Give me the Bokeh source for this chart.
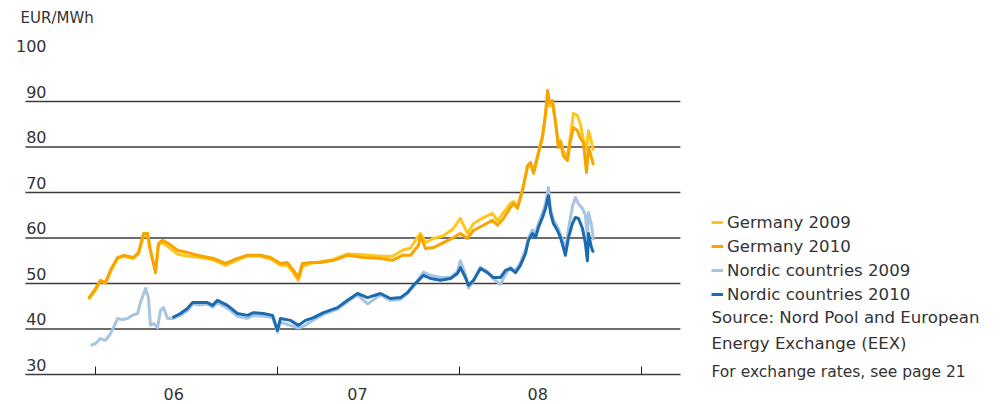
from bokeh.plotting import figure
from bokeh.models import FixedTicker, Label, Legend, LegendItem
from bokeh.embed import file_html
from bokeh.resources import INLINE

FONT = "DejaVu Sans"
TXT = "#333333"

# ---- data (decimal years, EUR/MWh) ----
de_t = [2005.962, 2006.000, 2006.027, 2006.055, 2006.082, 2006.121, 2006.154, 2006.209, 2006.236,
        2006.264, 2006.286, 2006.302, 2006.330, 2006.346, 2006.368, 2006.401, 2006.451, 2006.505,
        2006.560, 2006.648, 2006.714, 2006.780, 2006.835, 2006.907, 2006.962, 2007.016, 2007.055,
        2007.088, 2007.115, 2007.137, 2007.181, 2007.236, 2007.308, 2007.385, 2007.473, 2007.566,
        2007.632, 2007.687, 2007.731, 2007.775, 2007.786, 2007.813, 2007.857, 2007.912, 2007.967,
        2008.005, 2008.044, 2008.077, 2008.132, 2008.181, 2008.209, 2008.242, 2008.280, 2008.297,
        2008.319, 2008.346, 2008.374, 2008.390, 2008.407, 2008.434, 2008.456, 2008.473, 2008.484,
        2008.495, 2008.511, 2008.527, 2008.544, 2008.555, 2008.571, 2008.593, 2008.610, 2008.626,
        2008.648, 2008.665, 2008.681, 2008.698, 2008.709, 2008.720, 2008.736]
germany_2010 = [46.7, 48.9, 50.7, 50.2, 52.9, 55.7, 56.2, 55.7, 56.8,
                61.0, 61.0, 57.3, 52.4, 58.8, 59.5, 58.8, 57.3, 56.8,
                56.2, 55.5, 54.4, 55.5, 56.2, 56.2, 55.7, 54.4, 54.6,
                52.9, 51.3, 54.4, 54.6, 54.6, 55.1, 56.2, 55.7, 55.5,
                55.1, 56.2, 56.2, 58.4, 60.5, 57.7, 57.9, 59.0, 60.1,
                61.0, 59.9, 61.7, 62.8, 63.9, 62.8, 64.3, 66.7, 67.6,
                66.5, 70.4, 75.9, 76.6, 74.2, 78.6, 82.1, 87.4, 92.4,
                89.8, 90.2, 85.8, 79.9, 81.0, 78.1, 77.0, 81.4, 84.3,
                83.6, 81.9, 81.0, 74.4, 79.9, 78.5, 76.0]
germany_2009 = [46.5, 48.5, 50.5, 50.0, 52.5, 55.5, 56.0, 55.5, 56.5,
                60.5, 60.5, 57.0, 52.8, 58.5, 59.0, 58.0, 56.5, 56.0,
                55.8, 55.2, 54.0, 55.2, 56.0, 56.0, 55.4, 54.0, 54.0,
                52.3, 50.7, 53.8, 54.4, 54.8, 55.3, 56.5, 56.3, 56.0,
                56.0, 57.3, 57.8, 60.5, 61.0, 59.0, 59.9, 60.5, 62.1,
                64.3, 61.0, 63.2, 64.5, 65.4, 63.8, 65.6, 67.6, 68.0,
                67.0, 70.6, 75.5, 76.4, 74.5, 78.8, 82.5, 87.0, 91.0,
                89.0, 89.5, 85.5, 80.5, 81.5, 79.0, 78.0, 82.5, 87.4,
                86.9, 85.0, 81.5, 79.7, 83.6, 82.0, 79.2]

nordic09_t = [2005.973, 2006.000, 2006.027, 2006.055, 2006.082, 2006.099, 2006.121, 2006.148, 2006.176,
              2006.203, 2006.231, 2006.247, 2006.275, 2006.291, 2006.302, 2006.319, 2006.341, 2006.357,
              2006.374, 2006.396, 2006.423, 2006.467, 2006.505, 2006.533, 2006.566, 2006.615, 2006.643,
              2006.670, 2006.725, 2006.780, 2006.835, 2006.868, 2006.923, 2006.973, 2007.000, 2007.016,
              2007.071, 2007.115, 2007.154, 2007.198, 2007.253, 2007.330, 2007.385, 2007.440, 2007.495,
              2007.566, 2007.621, 2007.676, 2007.714, 2007.747, 2007.775, 2007.802, 2007.841, 2007.896,
              2007.951, 2007.989, 2008.005, 2008.033, 2008.049, 2008.077, 2008.115, 2008.154, 2008.187,
              2008.225, 2008.253, 2008.280, 2008.308, 2008.335, 2008.363, 2008.379, 2008.401, 2008.418,
              2008.434, 2008.456, 2008.473, 2008.489, 2008.500, 2008.516, 2008.538, 2008.555, 2008.571,
              2008.582, 2008.599, 2008.621, 2008.637, 2008.654, 2008.676, 2008.692, 2008.703, 2008.709,
              2008.725, 2008.736]
nordic_2009 = [36.4, 36.8, 37.9, 37.5, 39.0, 40.3, 42.3, 42.1, 42.3,
               43.0, 43.4, 45.8, 48.9, 46.9, 40.8, 41.2, 40.3, 44.1,
               44.7, 42.3, 42.3, 43.0, 44.0, 45.5, 45.3, 45.5, 44.8,
               45.8, 44.6, 42.8, 42.3, 43.0, 42.8, 42.5, 39.3, 41.5,
               40.8, 40.2, 40.8, 42.0, 43.2, 44.4, 46.0, 47.5, 45.5,
               47.5, 46.3, 46.5, 47.8, 49.3, 51.0, 52.5, 51.8, 51.3,
               51.3, 52.6, 55.0, 52.0, 49.0, 50.5, 53.6, 52.6, 51.0,
               49.8, 52.0, 53.5, 52.8, 54.6, 57.5, 60.0, 61.8, 61.0,
               63.2, 65.4, 67.5, 71.1, 66.5, 64.0, 62.5, 60.8, 59.0,
               57.5, 62.0, 67.0, 68.9, 67.5, 66.5, 65.0, 60.0, 65.6,
               63.0, 59.5]

nordic10_t = [2006.423, 2006.467, 2006.505, 2006.533, 2006.566, 2006.615, 2006.643, 2006.670, 2006.725,
              2006.780, 2006.835, 2006.868, 2006.923, 2006.973, 2007.000, 2007.016, 2007.071, 2007.115,
              2007.154, 2007.198, 2007.253, 2007.330, 2007.385, 2007.440, 2007.495, 2007.566, 2007.621,
              2007.676, 2007.714, 2007.747, 2007.775, 2007.802, 2007.841, 2007.896, 2007.951, 2007.989,
              2008.005, 2008.033, 2008.049, 2008.077, 2008.115, 2008.154, 2008.187, 2008.225, 2008.253,
              2008.280, 2008.308, 2008.335, 2008.363, 2008.379, 2008.401, 2008.418, 2008.434, 2008.456,
              2008.473, 2008.489, 2008.500, 2008.516, 2008.538, 2008.555, 2008.571, 2008.582, 2008.599,
              2008.621, 2008.637, 2008.654, 2008.676, 2008.692, 2008.703, 2008.709, 2008.725, 2008.736]
nordic_2010 = [42.5, 43.4, 44.5, 45.8, 45.8, 45.8, 45.2, 46.3, 45.2,
               43.4, 43.0, 43.6, 43.4, 43.0, 39.7, 42.3, 41.9, 40.8,
               41.9, 42.5, 43.6, 44.7, 46.3, 47.8, 46.9, 47.8, 46.7,
               46.9, 48.0, 49.6, 50.7, 51.8, 51.1, 50.7, 51.1, 52.2,
               53.5, 51.3, 49.6, 50.7, 53.3, 52.4, 51.3, 51.3, 52.9,
               53.3, 52.4, 54.0, 56.6, 59.5, 61.0, 60.1, 62.3, 64.5,
               66.5, 69.3, 65.6, 63.2, 61.7, 60.1, 57.9, 56.2, 60.1,
               63.2, 64.5, 64.3, 62.1, 58.8, 55.0, 61.0, 57.9, 56.8]

series_names = ["Germany 2009", "Germany 2010", "Nordic countries 2009", "Nordic countries 2010"]
series_colors = ["#FFC61E", "#F6A500", "#A7C4E0", "#1C6AAF"]

y_label_values = [30, 40, 50, 60, 70, 80, 90, 100]
grid_values = [40, 50, 60, 70, 80, 90]
year_bounds = [2006, 2007, 2008, 2009]
x_label_text = ["06", "07", "08"]
x_label_pos = [2006.43, 2007.44, 2008.43]

source_lines = ["Source: Nord Pool and European", "Energy Exchange (EEX)"]
note_text = "For exchange rates, see page 21"

# ---- layout constants (data-space extents of the chart body) ----
X_START, X_END = 2005.615, 2009.214
Y_BASE = 30

p = figure(width=1000, height=404, x_range=(2005.478, 2010.973), y_range=(23.407, 112.198),
           output_backend="svg", toolbar_location=None,
           min_border_left=0, min_border_right=0, min_border_top=0, min_border_bottom=0)
p.outline_line_color = None
p.background_fill_color = "white"
p.yaxis.visible = False
p.xgrid.visible = False
p.ygrid.visible = False

# x axis drawn at y = 30, limited to the chart body
p.xaxis.fixed_location = Y_BASE
p.xaxis.bounds = (X_START, X_END)
p.xaxis.ticker = FixedTicker(ticks=year_bounds)
p.xaxis.major_label_overrides = {t: " " for t in year_bounds}
p.xaxis.major_tick_in = 8
p.xaxis.major_tick_out = 0
p.xaxis.minor_tick_line_color = None
p.xaxis.axis_line_color = "#3c3c3c"
p.xaxis.axis_line_width = 1.3
p.xaxis.major_tick_line_color = "#222222"

# horizontal grid lines across the chart body
p.segment(x0=[X_START] * len(grid_values), x1=[X_END] * len(grid_values),
          y0=grid_values, y1=grid_values, line_color="#3c3c3c", line_width=1.3)

r_de09 = p.line(de_t, germany_2009, color=series_colors[0], line_width=3, line_join="round")
r_de10 = p.line(de_t, germany_2010, color=series_colors[1], line_width=3, line_join="round")
r_no09 = p.line(nordic09_t, nordic_2009, color=series_colors[2], line_width=3, line_join="round")
r_no10 = p.line(nordic10_t, nordic_2010, color=series_colors[3], line_width=3, line_join="round")

legend = Legend(items=[LegendItem(label=n, renderers=[r]) for n, r in
                       zip(series_names, [r_de09, r_de10, r_no09, r_no10])],
                location=(711, 100), orientation="vertical",
                border_line_color=None, background_fill_alpha=0,
                padding=0, margin=0, spacing=4, label_height=20, glyph_height=20,
                glyph_width=12, label_standoff=4,
                label_text_font=FONT, label_text_font_size="16.6px", label_text_color=TXT)
p.add_layout(legend, "center")

for v in y_label_values:
    p.add_layout(Label(x=2005.731, y=v, y_offset=10, text=str(v), text_align="right",
                       text_baseline="middle", text_font=FONT, text_font_size="16px",
                       text_color=TXT))

for pos, t in zip(x_label_pos, x_label_text):
    p.add_layout(Label(x=pos, y=Y_BASE, y_offset=-19.5, text=t, text_align="center",
                       text_baseline="middle", text_font=FONT, text_font_size="16px",
                       text_color=TXT))

p.add_layout(Label(x=2005.588, y=108.46, text="EUR/MWh", text_align="left",
                   text_baseline="middle", text_font=FONT, text_font_size="15px",
                   text_color=TXT))

for yy, t in zip([42.59, 36.75], source_lines):
    p.add_layout(Label(x=2009.385, y=yy, text=t, text_align="left", text_baseline="middle",
                       text_font=FONT, text_font_size="16.6px", text_color=TXT))
p.add_layout(Label(x=2009.385, y=30.51, text=note_text, text_align="left", text_baseline="middle",
                   text_font=FONT, text_font_size="15.5px", text_color=TXT))

open("out.html", "w").write(file_html(p, INLINE))
